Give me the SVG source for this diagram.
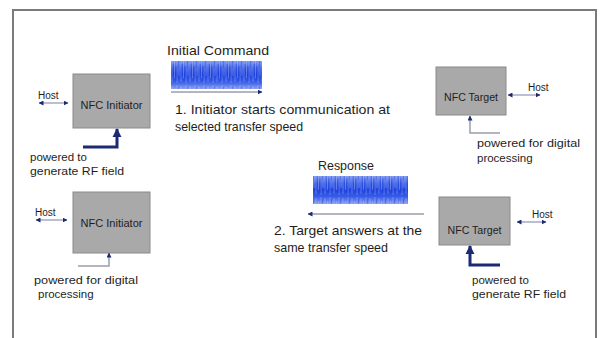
<svg xmlns="http://www.w3.org/2000/svg" width="602" height="338" viewBox="0 0 602 338">
<defs>
<style>
.t{font-family:"Liberation Sans",Arial,sans-serif;fill:#1e1e1e}
.lbl{font-size:13px}
.pw{font-size:11.5px}
.bx{font-size:10px}
.host{font-size:10px}
.box{fill:#a9a9a9;stroke:#8a8a8a;stroke-width:1}
.thin{fill:none;stroke:#9a9eaa;stroke-width:1.5}
.thick{fill:none;stroke:#1c2a72;stroke-width:3}
.hl{fill:none;stroke:#8d94b0;stroke-width:1.2}
</style>
<marker id="ah" viewBox="0 0 10 10" refX="9" refY="5" markerWidth="5" markerHeight="5" orient="auto-start-reverse" markerUnits="userSpaceOnUse">
<path d="M0,0 L10,5 L0,10 z" fill="#1c2a72"/>
</marker>
<marker id="ahb" viewBox="0 0 10 10" refX="9" refY="5" markerWidth="9" markerHeight="10" orient="auto" markerUnits="userSpaceOnUse">
<path d="M0,0 L10,5 L0,10 z" fill="#1c2a72"/>
</marker>
<linearGradient id="wg" x1="0" y1="0" x2="0" y2="1">
<stop offset="0" stop-color="#7d96f2"/>
<stop offset="0.25" stop-color="#3a5ee8"/>
<stop offset="0.5" stop-color="#1f43df"/>
<stop offset="0.75" stop-color="#3a5ee8"/>
<stop offset="1" stop-color="#8aa0f2"/>
</linearGradient>
<pattern id="noise" width="9" height="28" patternUnits="userSpaceOnUse">
<path d="M1,2 V26 M3.5,5 V22 M6,1 V27 M8,7 V20" stroke="#c8d2fa" stroke-width="0.6" opacity="0.55"/>
<path d="M2.2,8 V18 M5,10 V25 M7.3,3 V12" stroke="#1030c0" stroke-width="0.6" opacity="0.6"/>
</pattern>
</defs>
<rect width="602" height="338" fill="#ffffff"/>
<path d="M13,340 V10 H596 V340" fill="none" stroke="#7a7a7a" stroke-width="2"/>

<g id="initiator1">
<rect class="box" x="73" y="74" width="77" height="54"/>
<text class="t bx" x="111.5" y="109" text-anchor="middle" textLength="62" lengthAdjust="spacingAndGlyphs">NFC Initiator</text>
</g>
<g id="target1">
<rect class="box" x="436" y="67" width="70" height="48"/>
<text class="t bx" x="471" y="101" text-anchor="middle" textLength="54" lengthAdjust="spacingAndGlyphs">NFC Target</text>
</g>
<g id="initiator2">
<rect class="box" x="73" y="192" width="77" height="61"/>
<text class="t bx" x="111.5" y="227" text-anchor="middle" textLength="62" lengthAdjust="spacingAndGlyphs">NFC Initiator</text>
</g>
<g id="target2">
<rect class="box" x="439" y="197" width="71" height="48"/>
<text class="t bx" x="474.5" y="234" text-anchor="middle" textLength="54" lengthAdjust="spacingAndGlyphs">NFC Target</text>
</g>

<g id="wave1">
<rect x="171" y="61" width="91" height="28" fill="url(#wg)"/>
<rect x="171" y="61" width="91" height="28" fill="url(#noise)"/>
</g>
<g id="wave2">
<rect x="313" y="176" width="95" height="28" fill="url(#wg)"/>
<rect x="313" y="176" width="95" height="28" fill="url(#noise)"/>
</g>

<g id="connectors">
<line class="thin" x1="171" y1="92" x2="262" y2="92" marker-end="url(#ah)"/>
<line class="thin" x1="424" y1="214" x2="308" y2="214" marker-end="url(#ah)"/>
<line class="hl" x1="39" y1="103" x2="68" y2="103" marker-start="url(#ah)" marker-end="url(#ah)"/>
<line class="hl" x1="508" y1="95" x2="540" y2="95" marker-start="url(#ah)" marker-end="url(#ah)"/>
<line class="hl" x1="36" y1="220" x2="67" y2="220" marker-start="url(#ah)" marker-end="url(#ah)"/>
<line class="hl" x1="517" y1="222" x2="546" y2="222" marker-start="url(#ah)" marker-end="url(#ah)"/>
<path class="thick" d="M83,147 H117 V129" marker-end="url(#ahb)"/>
<path class="thick" d="M500,265 H470 V246" marker-end="url(#ahb)"/>
<path class="thin" d="M500,133 H470 V116" marker-end="url(#ah)"/>
<path class="thin" d="M78,266 H109 V253" marker-end="url(#ah)"/>
</g>

<g id="labels">
<text class="t lbl" x="167" y="55" textLength="102" lengthAdjust="spacingAndGlyphs">Initial Command</text>
<text class="t lbl" x="175" y="114" textLength="215" lengthAdjust="spacingAndGlyphs">1. Initiator starts communication at</text>
<text class="t lbl" x="175" y="131" textLength="128" lengthAdjust="spacingAndGlyphs">selected transfer speed</text>
<text class="t lbl" x="318" y="170" textLength="56" lengthAdjust="spacingAndGlyphs">Response</text>
<text class="t lbl" x="274" y="235" textLength="148" lengthAdjust="spacingAndGlyphs">2. Target answers at the</text>
<text class="t lbl" x="274" y="252" textLength="114" lengthAdjust="spacingAndGlyphs">same transfer speed</text>
<text class="t host" x="38" y="99">Host</text>
<text class="t host" x="528" y="91">Host</text>
<text class="t host" x="35" y="216">Host</text>
<text class="t host" x="532" y="218">Host</text>
<text class="t pw" x="30" y="161">powered  to</text>
<text class="t pw" x="30" y="175" textLength="94" lengthAdjust="spacingAndGlyphs">generate RF field</text>
<text class="t pw" x="477" y="147" textLength="103" lengthAdjust="spacingAndGlyphs">powered for digital</text>
<text class="t pw" x="477" y="162">processing</text>
<text class="t pw" x="34" y="284" textLength="104" lengthAdjust="spacingAndGlyphs">powered for digital</text>
<text class="t pw" x="38" y="298">processing</text>
<text class="t pw" x="472" y="284">powered  to</text>
<text class="t pw" x="472" y="298" textLength="94" lengthAdjust="spacingAndGlyphs">generate RF field</text>
</g>
</svg>
